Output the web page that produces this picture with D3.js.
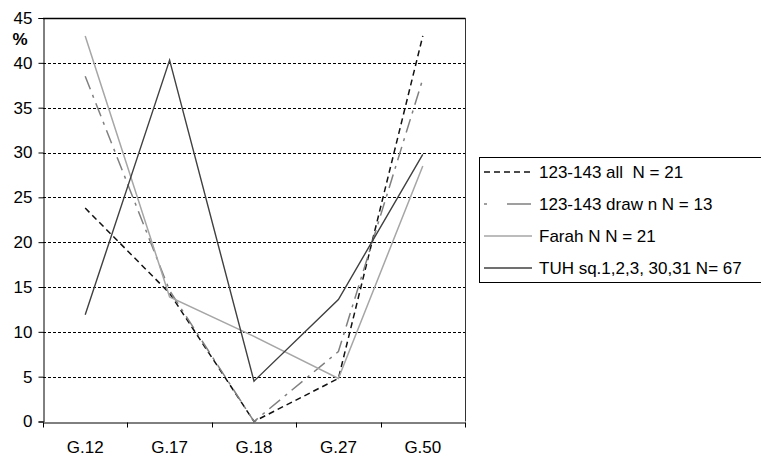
<!DOCTYPE html>
<html><head><meta charset="utf-8">
<script src="https://cdn.jsdelivr.net/npm/d3@7"></script>
<style>body{margin:0;background:#fff}svg{display:block;font-family:"Liberation Sans",Arial,sans-serif}text{white-space:pre}</style>
</head><body>
<svg id="c" width="761" height="457"></svg>
<script>
const categories = ["G.12","G.17","G.18","G.27","G.50"];
const s1 = [23.8, 14.3, 0, 4.8, 43.0];
const s2 = [38.5, 14.6, 0, 7.8, 38.2];
const s3 = [43.0, 13.9, 9.5, 4.8, 28.5];
const s4 = [11.9, 40.3, 4.5, 13.6, 29.8];
const seriesNames = ["123-143 all  N = 21","123-143 draw n N = 13","Farah N N = 21","TUH sq.1,2,3, 30,31 N= 67"];
const yTicks = [0,5,10,15,20,25,30,35,40,45];

const styles = [
  {color:"#111", w:1.5, dash:"6,4"},
  {color:"#808080", w:1.5, dash:"14,6,3,6"},
  {color:"#a6a6a6", w:1.5, dash:null},
  {color:"#404040", w:1.4, dash:null}
];
const data = [s1,s2,s3,s4];
const FS = 17;

const svg = d3.select("#c");
const L=43, R=465, T=18, B=421.5;
const x = d3.scaleBand().domain(categories).range([L,R]);
const y = d3.scaleLinear().domain([0,45]).range([B,T]);

// gridlines
svg.append("g").selectAll("line").data(yTicks.filter(v=>v>0&&v<45)).join("line")
  .attr("x1",L).attr("x2",R).attr("y1",d=>Math.round(y(d))+0.5).attr("y2",d=>Math.round(y(d))+0.5)
  .attr("stroke","#000").attr("stroke-width",1).attr("stroke-dasharray","3,2");

// plot border (top, right)
svg.append("line").attr("x1",L).attr("x2",R+0.5).attr("y1",T+0.5).attr("y2",T+0.5).attr("stroke","#000").attr("stroke-width",1.5);
svg.append("line").attr("x1",R+0.5).attr("x2",R+0.5).attr("y1",T).attr("y2",B).attr("stroke","#333").attr("stroke-width",1);

// y axis
const yAxis = d3.axisLeft(y).tickValues(yTicks).tickSize(5).tickPadding(6);
const gy = svg.append("g").attr("transform",`translate(${L+0.5},0)`).call(yAxis);
gy.attr("font-size",FS).attr("font-family","Liberation Sans, Arial");
gy.selectAll("text").attr("fill","#000");
gy.select(".domain").attr("stroke","#000");
gy.selectAll(".tick line").attr("stroke","#000");

// x axis
const xAxis = d3.axisBottom(x).tickSize(0).tickPadding(18);
const gx = svg.append("g").attr("transform",`translate(0,${Math.round(B)+0.5})`).call(xAxis);
gx.attr("font-size",FS).attr("font-family","Liberation Sans, Arial");
gx.selectAll("text").attr("fill","#000");
gx.select(".domain").attr("stroke","#000");
const bounds = categories.map(c=>x(c)).concat([R]);
gx.selectAll(".bt").data(bounds).join("line").attr("class","bt")
  .attr("x1",d=>Math.round(d)+0.5).attr("x2",d=>Math.round(d)+0.5).attr("y1",0).attr("y2",5).attr("stroke","#000");

// % label
svg.append("text").attr("x",20).attr("y",45).attr("text-anchor","middle").attr("font-size",FS).attr("font-weight","bold").text("%");

// lines
const line = d3.line().x((d,i)=>x(categories[i])+x.bandwidth()/2).y(d=>y(d));
data.forEach((s,i)=>{
  svg.append("path").datum(s).attr("d",line).attr("fill","none")
    .attr("stroke",styles[i].color).attr("stroke-width",styles[i].w)
    .attr("stroke-dasharray",styles[i].dash);
});

// legend
const lg = svg.append("g");
lg.append("rect").attr("x",479.5).attr("y",157.5).attr("width",300).attr("height",125).attr("fill","#fff").attr("stroke","#000").attr("stroke-width",1);
const ly = [172,204,236,268];
seriesNames.forEach((n,i)=>{
  lg.append("line").attr("x1",484).attr("x2",532).attr("y1",ly[i]).attr("y2",ly[i])
    .attr("stroke",styles[i].color).attr("stroke-width",styles[i].w)
    .attr("stroke-dasharray", i===1 ? "3,20,21,0" : styles[i].dash);
  lg.append("text").attr("x",539).attr("y",ly[i]+6).attr("font-size",FS).attr("fill","#000").text(n);
});
</script>
</body></html>
